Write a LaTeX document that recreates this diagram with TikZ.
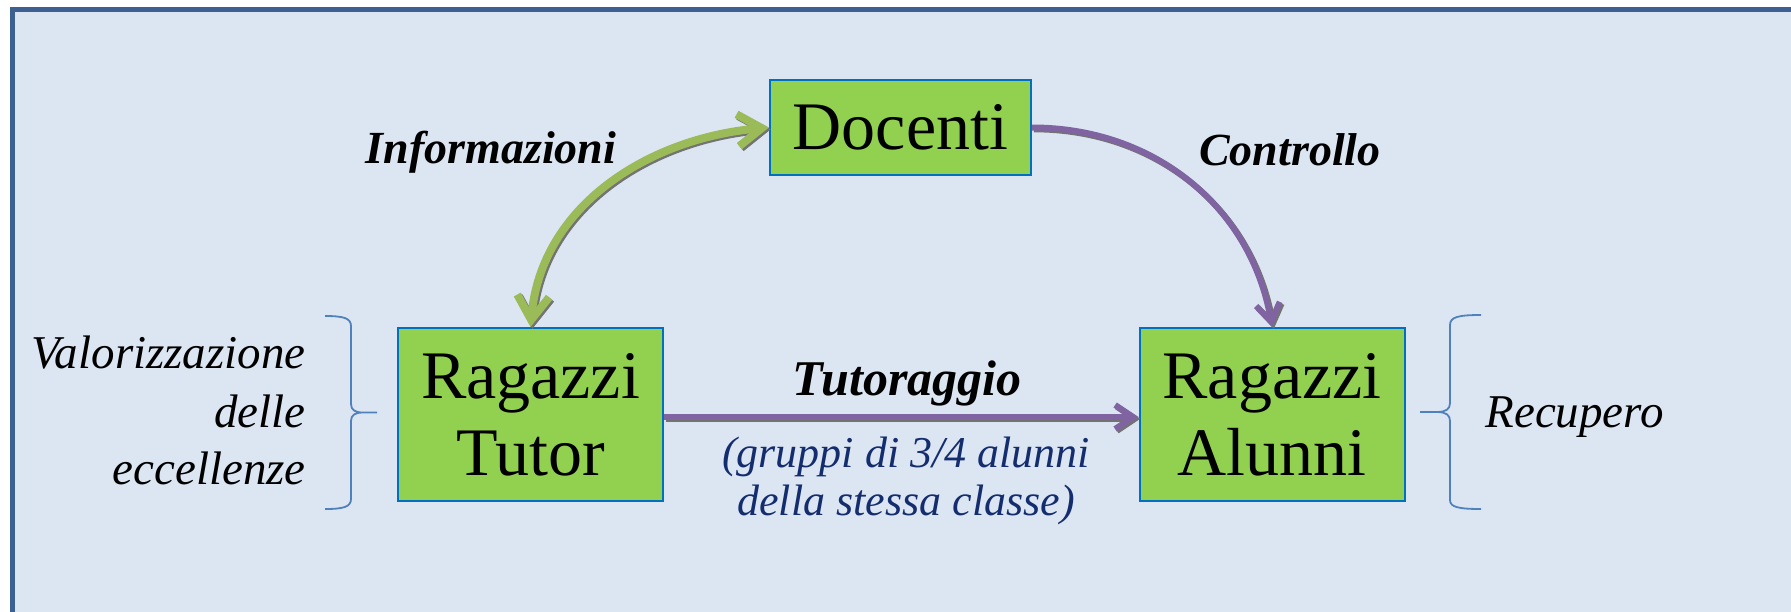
\documentclass[tikz,border=0pt]{standalone}
\usepackage{fontspec}
\setmainfont{Liberation Serif}
\usetikzlibrary{arrows.meta}
\definecolor{bgblue}{RGB}{220,230,242}
\definecolor{frameblue}{RGB}{60,96,146}
\definecolor{boxgreen}{RGB}{146,208,80}
\definecolor{boxline}{RGB}{0,112,192}
\definecolor{agreen}{RGB}{155,187,89}
\definecolor{apurple}{RGB}{128,100,162}
\definecolor{bracecol}{RGB}{79,129,189}
\definecolor{navytext}{RGB}{20,45,110}
\begin{document}
\begin{tikzpicture}[x=0.5pt,y=-0.5pt,
  gbox/.style={draw=boxline, line width=1pt, fill=boxgreen, inner sep=0pt,
    minimum width=132.5pt, minimum height=86.5pt, align=center,
    font=\fontsize{34}{38.5}\selectfont},
  lbl/.style={inner sep=0pt, font=\fontsize{23}{28}\selectfont\bfseries\itshape},
  ital/.style={inner sep=0pt, font=\fontsize{23.5}{28}\selectfont\itshape},
  ashadow/.style={draw=black!55, transform canvas={shift={(0.9pt,-0.9pt)}}},
  garrow/.style={draw=agreen, line width=4pt,
    {Straight Barb[length=12pt,width=16pt]}-{Straight Barb[length=12pt,width=16pt]}},
  parrow/.style={draw=apurple, line width=3pt,
    -{Straight Barb[length=9pt,width=12pt]}},
  bracestyle/.style={draw=bracecol, line width=0.9pt, line join=round}
]
\useasboundingbox (0,0) rectangle (1791,611);
\clip (0,0) rectangle (1791,611);
\fill[white] (0,0) rectangle (1791,611);
\draw[frameblue, line width=2.5pt, fill=bgblue] (12.5,9.5) rectangle (1850,680);

% boxes
\node[gbox, minimum width=130.5pt, minimum height=47.5pt] (doc) at (900.5,127.5) {Docenti};
\node[gbox] (tut) at (530.5,414.5) {Ragazzi\\Tutor};
\node[gbox] (alu) at (1272,414.5) {Ragazzi\\Alunni};

% labels
\node[lbl, anchor=base] (info) at (491,163) {Informazioni};
\node[lbl, anchor=base] (ctrl) at (1290,165) {Controllo};
\node[lbl, font=\fontsize{25}{30}\selectfont\bfseries\itshape, anchor=base] (tutlab) at (907,395) {Tutoraggio};
\node[ital, font=\fontsize{22}{26}\selectfont\itshape, text=navytext, anchor=base] (grp1) at (906,467) {(gruppi di 3/4 alunni};
\node[ital, font=\fontsize{22}{26}\selectfont\itshape, text=navytext, anchor=base] (grp2) at (906,515) {della stessa classe)};
\node[ital, anchor=base east] (val1) at (306,368) {Valorizzazione};
\node[ital, anchor=base east] (val2) at (306,427) {delle};
\node[ital, anchor=base east] (val3) at (306,484) {eccellenze};
\node[ital, anchor=base west] (rec) at (1485,427) {Recupero};

% braces
\draw[bracestyle] (325,316) .. controls (343,316) and (351,318) .. (351,326)
  -- (351,404) .. controls (351,410) and (355,412.5) .. (363,412.5)
  .. controls (355,412.5) and (351,415) .. (351,421)
  -- (351,499) .. controls (351,507) and (343,509) .. (325,509)
  (363,412.5) -- (377,412.5);
\draw[bracestyle] (1481,315) .. controls (1458,315) and (1450,317) .. (1450,325)
  -- (1450,403) .. controls (1450,409) and (1446,412) .. (1437,412)
  .. controls (1446,412) and (1450,415) .. (1450,421)
  -- (1450,500) .. controls (1450,507) and (1458,509) .. (1481,509)
  (1437,412) -- (1420,412);

% connectors
\draw[garrow, ashadow] (tut.north) to[out=85,in=185] (doc.west);
\draw[garrow] (tut.north) to[out=85,in=185] (doc.west);
\draw[parrow, ashadow] (doc.east) to[out=0,in=100] (alu.north);
\draw[parrow] (doc.east) to[out=0,in=100] (alu.north);
\draw[parrow, ashadow] ([yshift=-1.25pt]tut.east) -- ([yshift=-1.25pt]alu.west);
\draw[parrow] ([yshift=-1.25pt]tut.east) -- ([yshift=-1.25pt]alu.west);
\end{tikzpicture}
\end{document}
